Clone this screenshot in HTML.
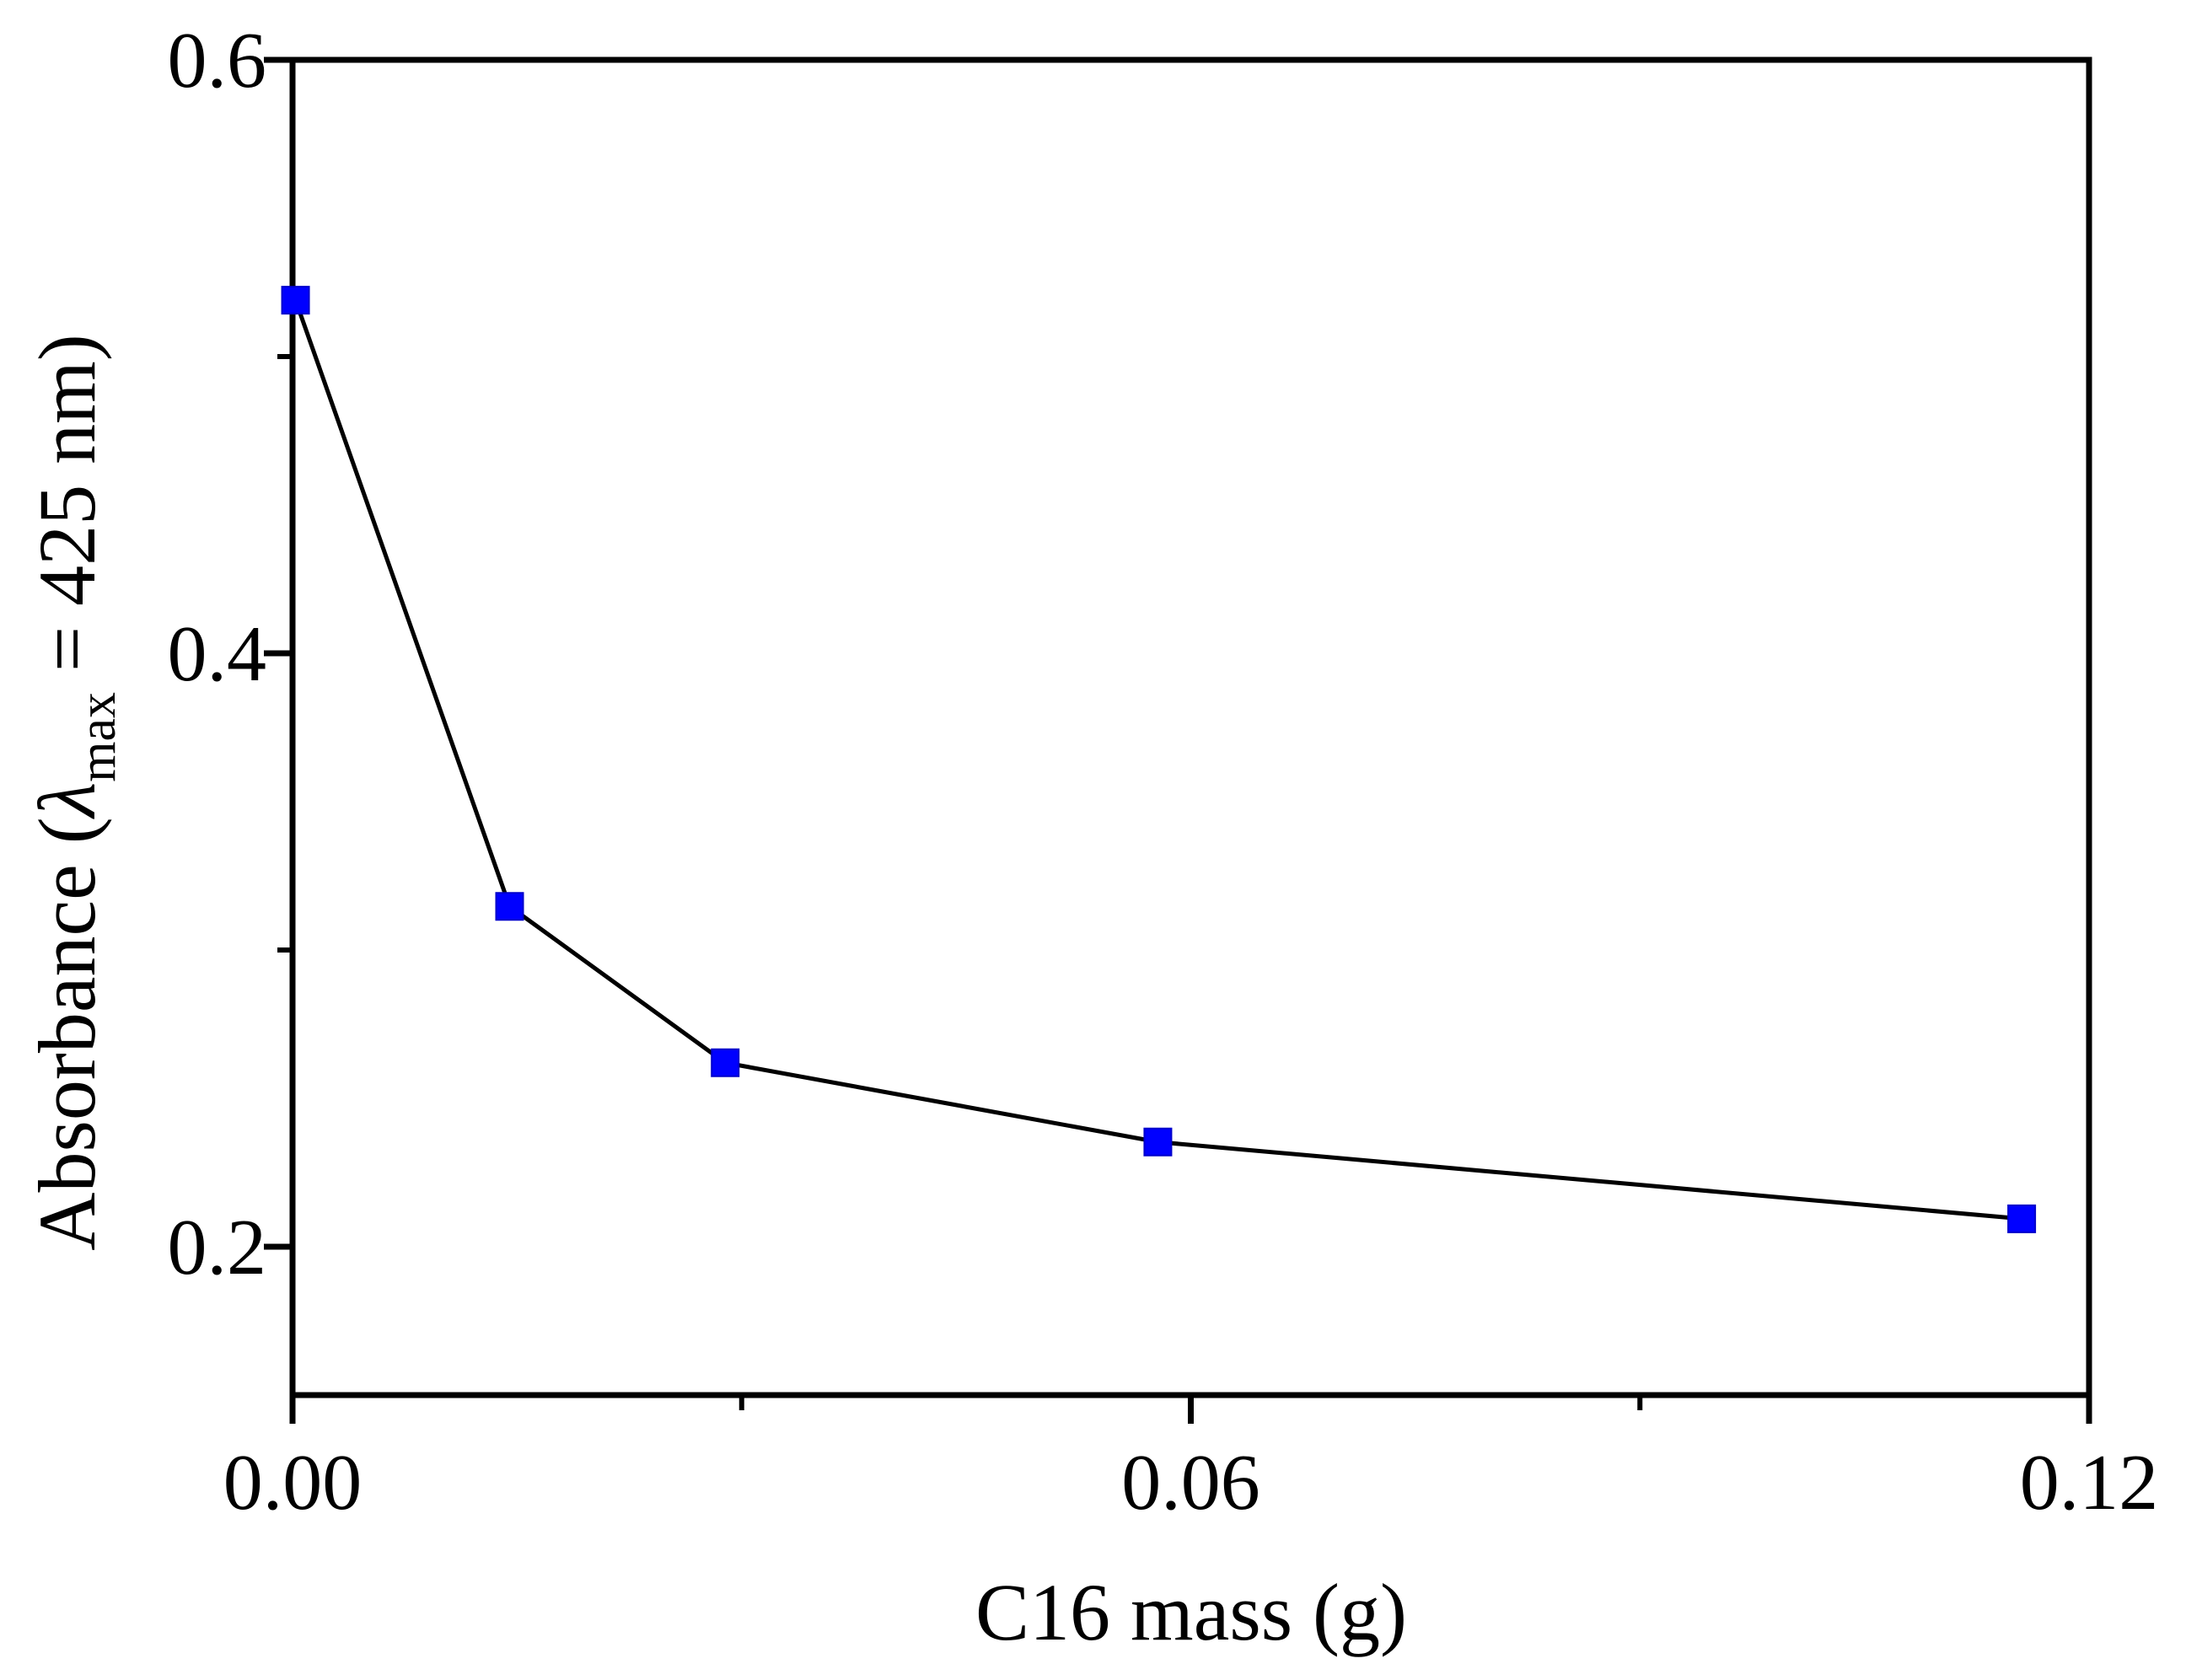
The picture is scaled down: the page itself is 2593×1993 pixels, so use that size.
<!DOCTYPE html>
<html><head><meta charset="utf-8"><style>html,body{margin:0;padding:0;background:#fff}svg{display:block}</style></head>
<body>
<svg id="chart" width="2593" height="1993" viewBox="0 0 2593 1993" xmlns="http://www.w3.org/2000/svg" font-family="'Liberation Serif', serif"></svg>
<script>
const xValues = [0.0002, 0.0145, 0.0289, 0.0578, 0.1155];
const yValues = [0.519, 0.3147, 0.262, 0.2353, 0.2094];
const xTickValues = [0, 0.06, 0.12];
const xTickLabels = ["0.00", "0.06", "0.12"];
const xMinorTicks = [0.03, 0.09];
const yTickValues = [0.2, 0.4, 0.6];
const yTickLabels = ["0.2", "0.4", "0.6"];
const yMinorTicks = [0.3, 0.5];

const L = 347, R = 2478, T = 71, B = 1655;
const xMin = 0, xMax = 0.12, yMin = 0.15, yMax = 0.6;
const sx = v => L + (v - xMin) / (xMax - xMin) * (R - L);
const sy = v => B - (v - yMin) / (yMax - yMin) * (B - T);
const svg = document.getElementById('chart');
const NS = 'http://www.w3.org/2000/svg';
function mk(tag, attrs, parent) {
  const e = document.createElementNS(NS, tag);
  for (const k in attrs) e.setAttribute(k, attrs[k]);
  (parent || svg).appendChild(e);
  return e;
}
const frame = mk('rect', {x: L, y: T, width: R - L, height: B - T, fill: 'none', stroke: '#000', 'stroke-width': 7});


xTickValues.forEach((v, i) => {
  const t = mk('line', {x1: sx(v), x2: sx(v), y1: B, y2: B + 34, stroke: '#000', 'stroke-width': 7});
  
  
  const lb = mk('text', {x: sx(v), y: 1790, 'font-size': 94, 'text-anchor': 'middle', fill: '#000'});
  lb.textContent = xTickLabels[i];
  
  
});
xMinorTicks.forEach(v => {
  const t = mk('line', {x1: sx(v), x2: sx(v), y1: B, y2: B + 18, stroke: '#000', 'stroke-width': 6});
  
  
});
yTickValues.forEach((v, i) => {
  const t = mk('line', {x1: L - 34, x2: L, y1: sy(v), y2: sy(v), stroke: '#000', 'stroke-width': 7});
  
  
  const lb = mk('text', {x: 316, y: sy(v) + 32, 'font-size': 94, 'text-anchor': 'end', fill: '#000'});
  lb.textContent = yTickLabels[i];
  
  
});
yMinorTicks.forEach(v => {
  const t = mk('line', {x1: L - 18, x2: L, y1: sy(v), y2: sy(v), stroke: '#000', 'stroke-width': 6});
  
  
});
const pts = xValues.map((x, i) => sx(x) + ',' + sy(yValues[i])).join(' ');
const line = mk('polyline', {points: pts, fill: 'none', stroke: '#000', 'stroke-width': 5});


xValues.forEach((x, i) => {
  const m = mk('rect', {x: sx(x) - 16, y: sy(yValues[i]) - 16, width: 32, height: 32, fill: '#0000ff', stroke: '#0000cc', 'stroke-width': 2});
  
  
});
const xt = mk('text', {x: 1413, y: 1945, 'font-size': 96, 'text-anchor': 'middle', fill: '#000'});
xt.textContent = 'C16 mass (g)';


const yt = mk('text', {x: 0, y: 0, 'font-size': 96, 'text-anchor': 'middle', fill: '#000', transform: 'translate(112,940) rotate(-90)'});


yt.innerHTML = 'Absorbance (<tspan font-style="italic">λ</tspan><tspan font-size="62" dy="24">max</tspan><tspan dy="-24"> = 425 nm)</tspan>';
</script>
</body></html>
